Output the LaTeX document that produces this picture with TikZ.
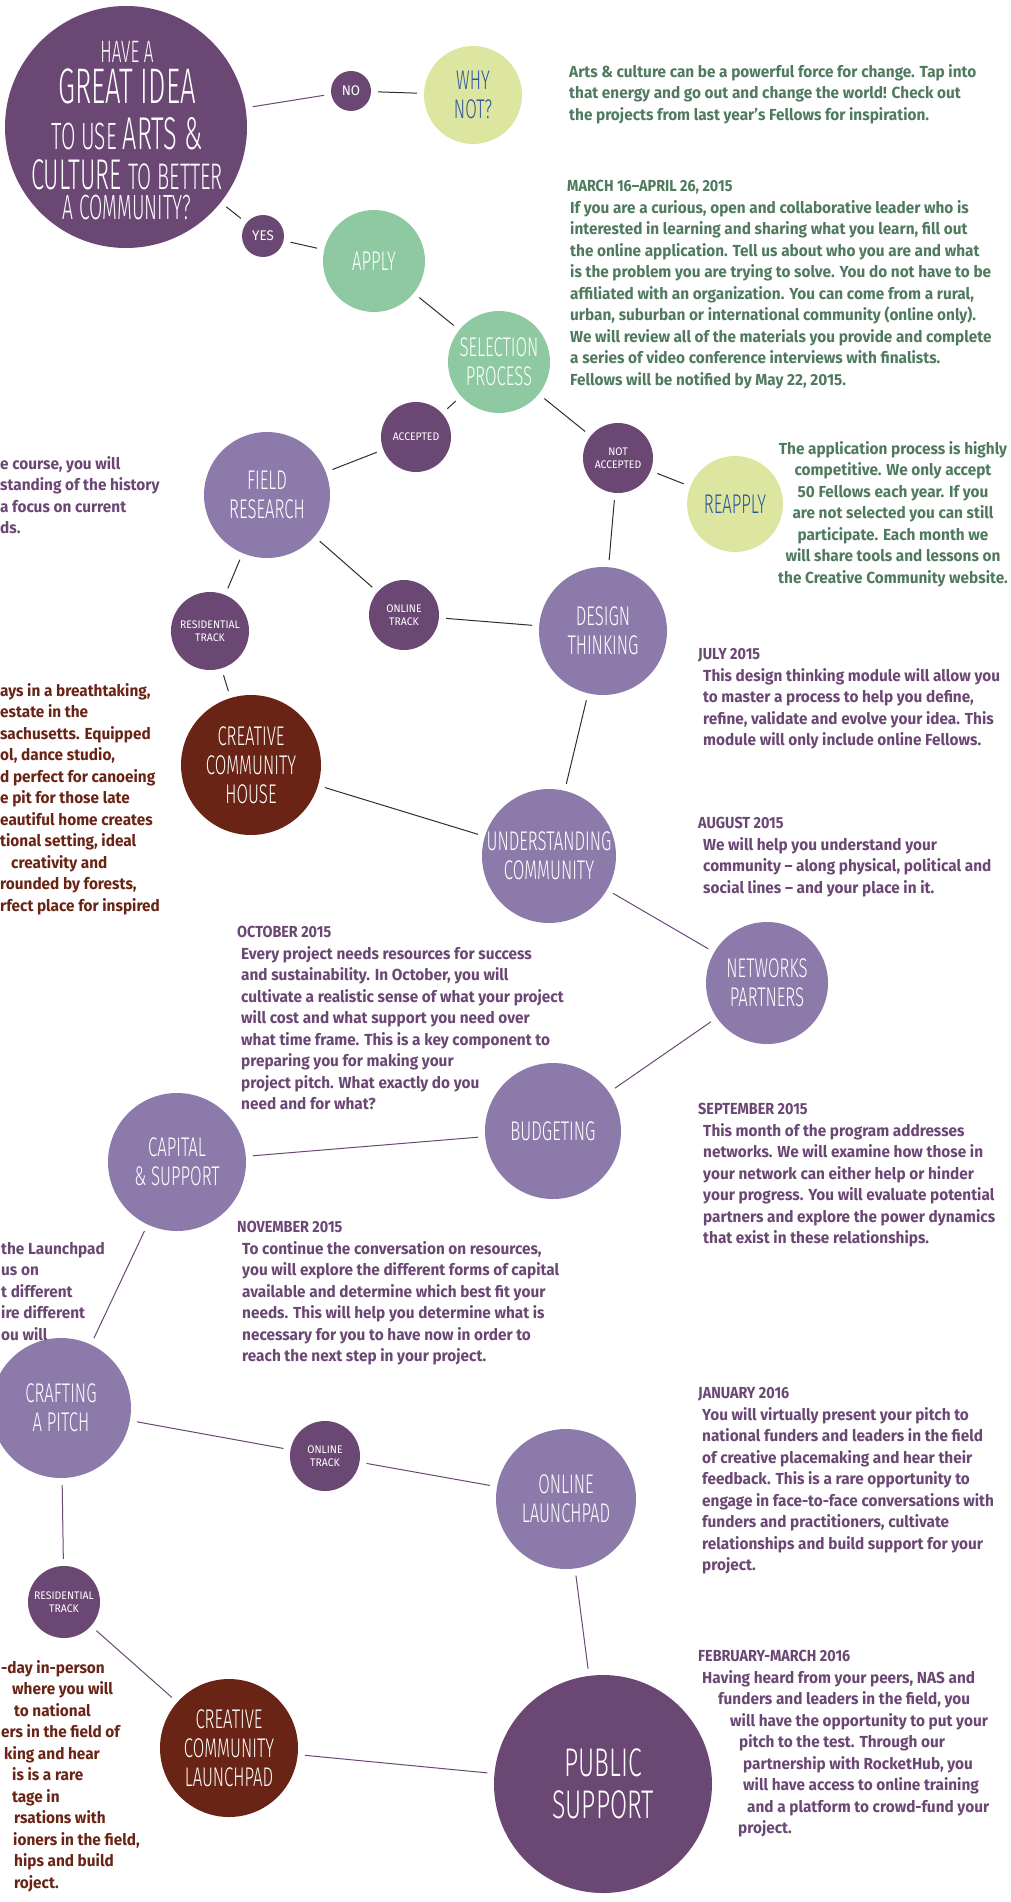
\documentclass[tikz,border=0pt]{standalone}
\usepackage{fontspec}
\setmainfont{Fira Sans}[FakeStretch=0.96]
\newfontfamily\hand{Fira Sans Light}[FakeStretch=0.62]
\newfontfamily\handn{Fira Sans Light}[FakeStretch=0.55]
\newfontfamily\tagfont{Fira Sans}[FakeStretch=0.95]
\newfontfamily\hdrfont{Fira Sans}[FakeStretch=0.9]
\definecolor{dpurple}{HTML}{6B4774}
\definecolor{lpurple}{HTML}{8C7BAA}
\definecolor{mint}{HTML}{8FC9A1}
\definecolor{lgreen}{HTML}{DCE6A0}
\definecolor{rust}{HTML}{6A2415}
\definecolor{tgreen}{HTML}{4F7A5E}
\definecolor{tblue}{HTML}{2B539E}
\definecolor{lineg}{HTML}{2E2E2E}
\newcommand{\fl}{\rule{0pt}{13pt}}
\newcommand{\qrow}[2]{\hbox to 240pt{\hss\rule{0pt}{#1}#2\hss}}
\tikzset{
 circ/.style={circle, inner sep=0pt, align=center, text=white, font=\hand\fontsize{27}{29}\selectfont},
 tag/.style={circle, fill=dpurple, text=white, inner sep=0pt, align=center, font=\tagfont\fontsize{11}{13}\selectfont},
 conn/.style={line width=1pt, draw=lineg, shorten >=7pt, shorten <=7pt},
 pconn/.style={conn, draw=dpurple},
 txt/.style={anchor=north west, align=left, inner sep=0pt, text=#1, font=\bfseries\fontsize{16}{21.5}\selectfont},
 hdr/.style={anchor=north west, align=left, inner sep=0pt, text=#1, font=\hdrfont\bfseries\fontsize{16}{21.5}\selectfont},
 ctxt/.style={anchor=north, align=center, inner sep=0pt, text=#1, font=\bfseries\fontsize{16}{21.5}\selectfont}
}
\begin{document}
\begin{tikzpicture}[x=1pt,y=-1pt]
\useasboundingbox (0,0) rectangle (1011,1902);

% ---------- circles ----------
\node[circ, fill=dpurple, minimum size=242pt] (q) at (126,127) {};
\node[anchor=north, inner sep=0pt, text=white] (qtext) at (127,40) {\vbox{\offinterlineskip\handn
\qrow{22pt}{\fontsize{31}{31}\selectfont HAVE A}
\qrow{41pt}{\fontsize{50}{50}\selectfont GREAT IDEA}
\qrow{46pt}{\fontsize{38}{38}\selectfont TO USE \fontsize{46}{46}\selectfont ARTS \&}
\qrow{39pt}{\fontsize{43}{43}\selectfont CULTURE \fontsize{37}{37}\selectfont TO BETTER}
\qrow{30pt}{\fontsize{35}{35}\selectfont A COMMUNITY?}}};

\node[tag, minimum size=40pt, font=\tagfont\fontsize{14}{15}\selectfont] (no) at (351,91) {NO};
\node[circ, fill=lgreen, text=tblue, minimum size=98pt] (whynot) at (473,95) {WHY\\NOT?};
\node[tag, minimum size=42pt, font=\tagfont\fontsize{14}{15}\selectfont] (yes) at (263,236) {YES};
\node[circ, fill=mint, minimum size=102pt] (apply) at (374,261) {APPLY};
\node[circ, fill=mint, minimum size=102pt] (select) at (499,362) {SELECTION\\PROCESS};
\node[tag, minimum size=70pt] (acc) at (416,437) {ACCEPTED};
\node[tag, minimum size=70pt] (nacc) at (618,458) {NOT\\ACCEPTED};
\node[circ, fill=lgreen, text=tblue, minimum size=96pt] (reapply) at (735,504) {REAPPLY};
\node[circ, fill=lpurple, minimum size=126pt] (field) at (267,495) {FIELD\\RESEARCH};
\node[tag, minimum size=78pt] (res1) at (210,631) {RESIDENTIAL\\TRACK};
\node[tag, minimum size=70pt] (onl1) at (404,615) {ONLINE\\TRACK};
\node[circ, fill=lpurple, minimum size=128pt] (design) at (603,631) {DESIGN\\THINKING};
\node[circ, fill=rust, minimum size=140pt] (cch) at (251,765) {CREATIVE\\COMMUNITY\\HOUSE};
\node[circ, fill=lpurple, minimum size=134pt] (under) at (549,856) {UNDERSTANDING\\COMMUNITY};
\node[circ, fill=lpurple, minimum size=122pt] (netw) at (767,983) {NETWORKS\\PARTNERS};
\node[circ, fill=lpurple, minimum size=136pt] (budget) at (553,1131) {BUDGETING};
\node[circ, fill=lpurple, minimum size=138pt] (capital) at (177,1162) {CAPITAL\\\& SUPPORT};
\node[circ, fill=lpurple, minimum size=140pt] (craft) at (61,1408) {CRAFTING\\A PITCH};
\node[tag, minimum size=70pt] (onl2) at (325,1456) {ONLINE\\TRACK};
\node[circ, fill=lpurple, minimum size=140pt] (onlaunch) at (566,1499) {ONLINE\\LAUNCHPAD};
\node[tag, minimum size=72pt] (res2) at (64,1602) {RESIDENTIAL\\TRACK};
\node[circ, fill=rust, minimum size=138pt] (ccl) at (229,1748) {CREATIVE\\COMMUNITY\\LAUNCHPAD};
\node[circ, fill=dpurple, minimum size=218pt, font=\hand\fontsize{40}{42}\selectfont] (public) at (603,1784) {PUBLIC\\SUPPORT};

% ---------- connectors ----------
\draw[pconn] (q) -- (no);
\draw[conn] (no) -- (whynot);
\draw[conn] (q) -- (yes);
\draw[conn] (yes) -- (apply);
\draw[conn] (apply) -- (select);
\draw[conn] (select) -- (acc);
\draw[conn] (select) -- (nacc);
\draw[conn] (acc) -- (field);
\draw[conn] (nacc) -- (reapply);
\draw[conn] (nacc) -- (design);
\draw[conn] (field) -- (res1);
\draw[conn] (field) -- (onl1);
\draw[conn] (res1) -- (cch);
\draw[conn] (onl1) -- (design);
\draw[conn] (design) -- (under);
\draw[conn] (cch) -- (under);
\draw[pconn] (under) -- (netw);
\draw[pconn] (netw) -- (budget);
\draw[pconn] (budget) -- (capital);
\draw[pconn] (capital) -- (craft);
\draw[pconn] (craft) -- (onl2);
\draw[pconn] (onl2) -- (onlaunch);
\draw[pconn] (craft) -- (res2);
\draw[pconn] (res2) -- (ccl);
\draw[pconn] (onlaunch) -- (public);
\draw[pconn] (ccl) -- (public);

% ---------- texts ----------
\node[txt=tgreen] (t-arts) at (569,64) {\fl Arts \& culture can be a powerful force for change. Tap into\\that energy and go out and change the world! Check out\\the projects from last year's Fellows for inspiration.};

\node[hdr=tgreen] (h-march) at (567,178) {\fl MARCH 16–APRIL 26, 2015};
\node[txt=tgreen] (t-march) at (570,200) {\fl If you are a curious, open and collaborative leader who is\\interested in learning and sharing what you learn, fill out\\the online application. Tell us about who you are and what\\is the problem you are trying to solve. You do not have to be\\affiliated with an organization. You can come from a rural,\\urban, suburban or international community (online only).\\We will review all of the materials you provide and complete\\a series of video conference interviews with finalists.\\Fellows will be notified by May 22, 2015.};

\node[ctxt=tgreen] (t-reapply) at (893,441) {\fl The application process is highly\\competitive. We only accept\\50 Fellows each year. If you\\are not selected you can still\\participate. Each month we\\will share tools and lessons on\\the Creative Community website.};

\node[txt=dpurple] (t-field) at (0,456) {\fl e course, you will\\standing of the history\\a focus on current\\ds.};

\node[txt=rust] (t-house) at (0,683) {\fl ays in a breathtaking,\\estate in the\\sachusetts. Equipped\\ol, dance studio,\\d perfect for canoeing\\e pit for those late\\eautiful home creates\\tional setting, ideal\\\hspace*{11pt}creativity and\\rounded by forests,\\rfect place for inspired};

\node[hdr=dpurple] (h-july) at (698,646) {\fl JULY 2015};
\node[txt=dpurple] (t-july) at (703,668) {\fl This design thinking module will allow you\\to master a process to help you define,\\refine, validate and evolve your idea. This\\module will only include online Fellows.};

\node[hdr=dpurple] (h-aug) at (698,815) {\fl AUGUST 2015};
\node[txt=dpurple] (t-aug) at (703,837) {\fl We will help you understand your\\community -- along physical, political and\\social lines -- and your place in it.};

\node[hdr=dpurple] (h-oct) at (237,924) {\fl OCTOBER 2015};
\node[txt=dpurple] (t-oct) at (241,946) {\fl Every project needs resources for success\\and sustainability. In October, you will\\cultivate a realistic sense of what your project\\will cost and what support you need over\\what time frame. This is a key component to\\preparing you for making your\\project pitch. What exactly do you\\need and for what?};

\node[hdr=dpurple] (h-sep) at (698,1101) {\fl SEPTEMBER 2015};
\node[txt=dpurple] (t-sep) at (703,1123) {\fl This month of the program addresses\\networks. We will examine how those in\\your network can either help or hinder\\your progress. You will evaluate potential\\partners and explore the power dynamics\\that exist in these relationships.};

\node[hdr=dpurple] (h-nov) at (237,1219) {\fl NOVEMBER 2015};
\node[txt=dpurple] (t-nov) at (242,1241) {\fl To continue the conversation on resources,\\you will explore the different forms of capital\\available and determine which best fit your\\needs. This will help you determine what is\\necessary for you to have now in order to\\reach the next step in your project.};

\node[txt=dpurple] (t-launch) at (1,1241) {\fl the Launchpad\\us on\\t different\\ire different\\ou will};

\node[hdr=dpurple] (h-jan) at (698,1385) {\fl JANUARY 2016};
\node[txt=dpurple] (t-jan) at (702,1407) {\fl You will virtually present your pitch to\\national funders and leaders in the field\\of creative placemaking and hear their\\feedback. This is a rare opportunity to\\engage in face-to-face conversations with\\funders and practitioners, cultivate\\relationships and build support for your\\project.};

\node[hdr=dpurple] (h-feb) at (698,1648) {\fl FEBRUARY-MARCH 2016};
\node[txt=dpurple] (t-feb) at (702,1670) {\fl Having heard from your peers, NAS and\\\hspace*{16pt}funders and leaders in the field, you\\\hspace*{28pt}will have the opportunity to put your\\\hspace*{37pt}pitch to the test. Through our\\\hspace*{41pt}partnership with RocketHub, you\\\hspace*{41pt}will have access to online training\\\hspace*{45pt}and a platform to crowd-fund your\\\hspace*{36pt}project.};

\node[txt=rust] (t-ccl) at (1,1660) {\fl -day in-person\\\hspace*{11pt}where you will\\\hspace*{13pt}to national\\ers in the field of\\\hspace*{3pt}king and hear\\\hspace*{11pt}is is a rare\\\hspace*{11pt}tage in\\\hspace*{13pt}rsations with\\\hspace*{12pt}ioners in the field,\\\hspace*{13pt}hips and build\\\hspace*{13pt}roject.};
\end{tikzpicture}
\end{document}
